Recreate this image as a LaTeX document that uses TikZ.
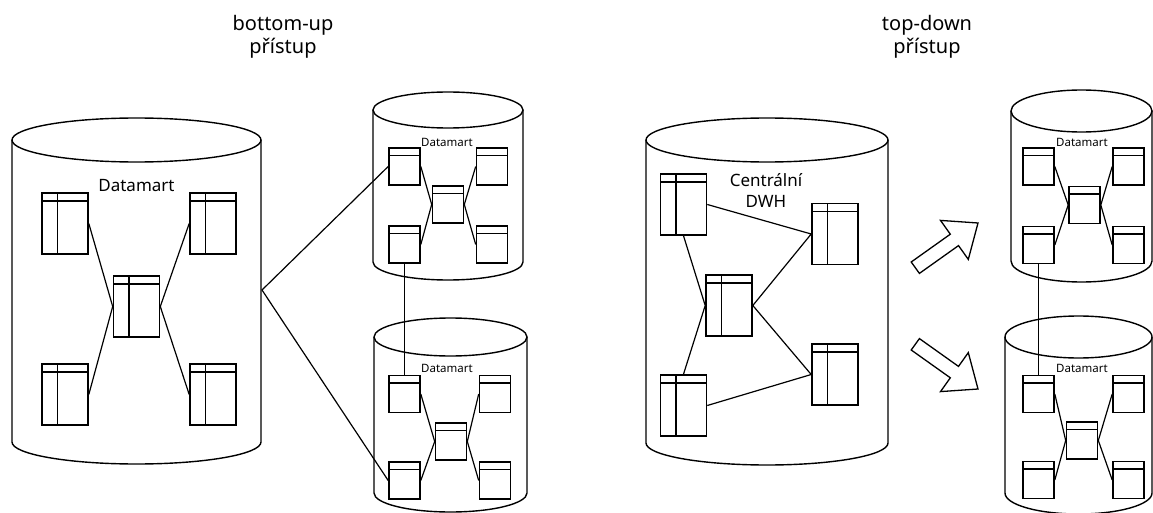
\documentclass[tikz,border=0pt]{standalone}
\usepackage{fontspec}
\setmainfont{Noto Sans}
\usetikzlibrary{calc}

% cylinder: centre x, x radius, top axis y, bottom axis y, y radius
\newcommand\drum[5]{%
  \draw[cyl] (#1-#2,#3) -- (#1-#2,#4)
    arc[start angle=180,end angle=0,x radius=#2,y radius=#5] -- (#1+#2,#3);
  \draw[cyl] (#1,#3) ellipse[x radius=#2,y radius=#5];}

\tikzset{
  cyl/.style={line width=1.4pt},
  link/.style={line width=1.2pt},
  bigtab/.style={draw, line width=1.6pt, inner sep=0pt,
    minimum width=46pt, minimum height=61pt,
    path picture={
      \draw[line width=1.6pt] ([yshift=-8pt]path picture bounding box.north west)
        -- ([yshift=-8pt]path picture bounding box.north east);
      \draw[line width=1.6pt] ([xshift=15.5pt]path picture bounding box.north west)
        -- ([xshift=15.5pt]path picture bounding box.south west);}},
  smalltab/.style={draw, line width=1.6pt, inner sep=0pt,
    minimum width=31pt, minimum height=37pt,
    path picture={
      \draw[line width=1.6pt] ([yshift=-7.5pt]path picture bounding box.north west)
        -- ([yshift=-7.5pt]path picture bounding box.north east);}},
  blockarrow/.style={line width=1.3pt, line join=miter},
  heading/.style={font=\fontsize{20}{23}\selectfont, align=center, inner sep=0pt},
  dmbig/.style={font=\fontsize{17}{21}\selectfont, align=center, inner sep=0pt},
  dmsmall/.style={font=\fontsize{11.5}{13}\selectfont, inner sep=0pt},
}

\begin{document}
\begin{tikzpicture}[x=1pt,y=-1pt]
\useasboundingbox (0,0) rectangle (1153,513);

% headings
\node[heading] (hbu) at (283,36.5) {bottom-up\\přístup};
\node[heading] (htd) at (927,36.5) {top-down\\přístup};

% ---------- bottom-up: one large datamart ----------
\drum{136.5}{124.5}{140}{442}{22}
\node[dmbig] (dmL) at (136.5,186) {Datamart};
\node[bigtab] (L1) at (65,223.5) {};
\node[bigtab] (L2) at (213,223.5) {};
\node[bigtab] (L0) at (136.5,306.5) {};
\node[bigtab] (L3) at (65,394.5) {};
\node[bigtab] (L4) at (213,394.5) {};
\draw[link] (L1.east) -- (L0.west) -- (L3.east);
\draw[link] (L2.west) -- (L0.east) -- (L4.west);

% upper small datamart
\drum{448}{75}{110}{262}{18}
\node[dmsmall] (dmA) at (447,142) {Datamart};
\node[smalltab] (A1) at (404.5,166.5) {};
\node[smalltab] (A2) at (492,166.5) {};
\node[smalltab] (A0) at (448,204.5) {};
\node[smalltab] (A3) at (404.5,244.5) {};
\node[smalltab] (A4) at (492,244.5) {};
\draw[link] (A1.east) -- (A0.west) -- (A3.east);
\draw[link] (A2.west) -- (A0.east) -- (A4.west);

% lower small datamart
\drum{450.5}{76.5}{337}{493}{19}
\node[dmsmall] (dmB) at (447,368) {Datamart};
\node[smalltab] (B1) at (404.5,394) {};
\node[smalltab] (B2) at (495,394) {};
\node[smalltab] (B0) at (451,441.5) {};
\node[smalltab] (B3) at (404.5,480.5) {};
\node[smalltab] (B4) at (495,480.5) {};
\draw[link] (B1.east) -- (B0.west) -- (B3.east);
\draw[link] (B2.west) -- (B0.east) -- (B4.west);

% links between the datamarts
\coordinate (Lout) at (262,290);
\draw[link] (A1.west) -- (Lout) -- (B3.west);
\draw[link] (A3.south) -- (B1.north);

% ---------- top-down: central DWH ----------
\drum{767}{121}{140}{443}{22}
\node[dmbig] (dwh) at (766,190.5) {Centrální\\DWH};
\node[bigtab] (D1) at (683.5,204.5) {};
\node[bigtab] (D2) at (835,234) {};
\node[bigtab] (D0) at (729,305.5) {};
\node[bigtab] (D3) at (683.5,405.5) {};
\node[bigtab] (D4) at (835,374.5) {};
\draw[link] (D1.east) -- (D2.west) -- (D0.east) -- (D4.west) -- (D3.east);
\draw[link] (D1.south) -- (D0.west) -- (D3.north);

% block arrows
\draw[blockarrow] (911.2,262.0) -- (950.3,234.2) -- (940.5,220.4) -- (978,223)
  -- (968.3,259.4) -- (958.5,245.6) -- (919.4,273.4) -- cycle;
\draw[blockarrow] (911.2,350.0) -- (950.3,377.8) -- (940.5,391.6) -- (978,389)
  -- (968.3,352.6) -- (958.5,366.4) -- (919.4,338.6) -- cycle;

% upper right datamart
\drum{1081.5}{70.5}{111}{261}{21}
\node[dmsmall] (dmC) at (1082,142) {Datamart};
\node[smalltab] (C1) at (1038.5,166.5) {};
\node[smalltab] (C2) at (1128.5,166.5) {};
\node[smalltab] (C0) at (1084.5,205) {};
\node[smalltab] (C3) at (1038.5,245) {};
\node[smalltab] (C4) at (1128.5,245) {};
\draw[link] (C1.east) -- (C0.west) -- (C3.east);
\draw[link] (C2.west) -- (C0.east) -- (C4.west);

% lower right datamart
\drum{1078.5}{73.5}{337}{493}{21}
\node[dmsmall] (dmD) at (1082,368) {Datamart};
\node[smalltab] (E1) at (1038.5,394) {};
\node[smalltab] (E2) at (1128.5,394) {};
\node[smalltab] (E0) at (1082,440.5) {};
\node[smalltab] (E3) at (1038.5,480) {};
\node[smalltab] (E4) at (1128.5,480) {};
\draw[link] (E1.east) -- (E0.west) -- (E3.east);
\draw[link] (E2.west) -- (E0.east) -- (E4.west);

\draw[link] (C3.south) -- (E1.north);
\end{tikzpicture}
\end{document}
